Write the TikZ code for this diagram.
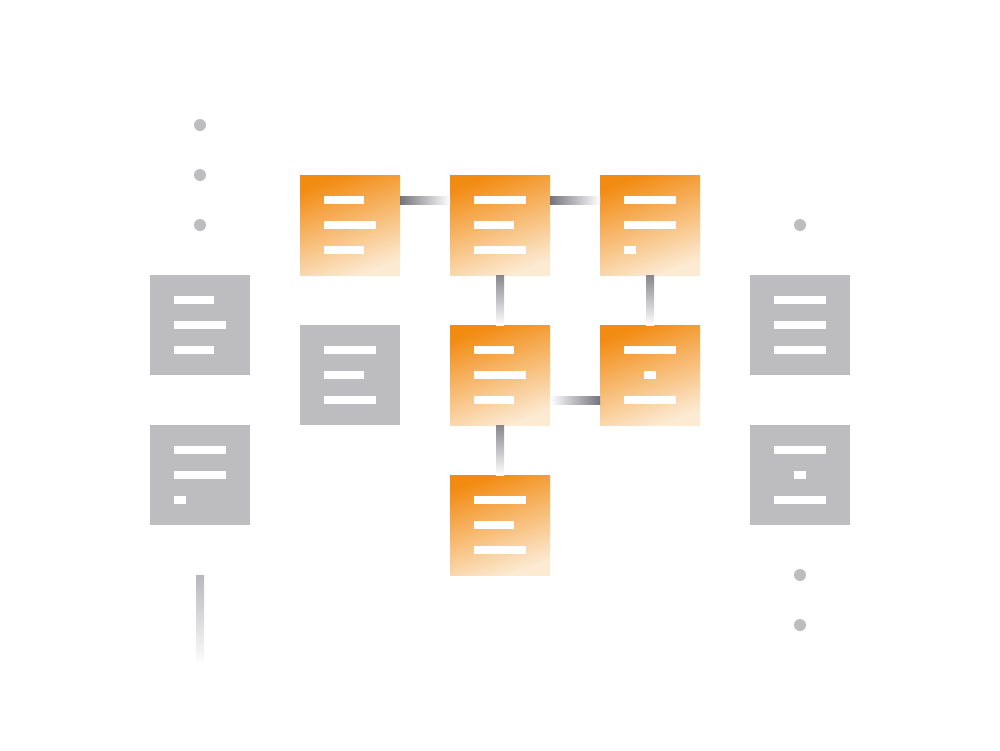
\documentclass[tikz,border=0pt]{standalone}
\usetikzlibrary{calc}
\definecolor{boxgray}{HTML}{BDBDBF}
\definecolor{dotgray}{HTML}{BDBDBF}
\definecolor{odark}{HTML}{F28B12}
\definecolor{omid}{HTML}{F5AA55}
\definecolor{olight}{HTML}{FCEAD3}
\definecolor{cdark}{HTML}{74747C}
\definecolor{vdark}{HTML}{86868C}
\definecolor{ltop}{HTML}{B8B8BC}
\definecolor{lmid}{HTML}{ADADB0}
\newcommand\mybar[4]{\fill[white] ([xshift=#3pt,yshift=-#2pt]#1.north west) rectangle ++(#4pt,-8pt);}
\newcommand\stdbars[4]{\mybar{#1}{21}{24}{#2}\mybar{#1}{46}{24}{#3}\mybar{#1}{71}{24}{#4}}
\tikzset{
  obox/.style={minimum size=100pt, inner sep=0pt, outer sep=0pt, draw=none,
    top color=odark, middle color=omid, bottom color=olight, shading angle=20},
  gbox/.style={minimum size=100pt, inner sep=0pt, outer sep=0pt, fill=boxgray},
  hconn/.style={left color=cdark, right color=white},
  hconnr/.style={left color=white, right color=cdark},
  vconn/.style={top color=vdark, bottom color=white},
  dot/.style={fill=dotgray}
}
\begin{document}
\begin{tikzpicture}[x=1pt,y=-1pt]
\useasboundingbox (0,0) rectangle (1000,750);
% orange boxes
\node[obox] (o1) at (350,225) {};
\node[obox] (o2) at (500,225) {};
\node[obox] (o3) at (650,225) {};
\node[obox] (o4) at (500,375) {};
\node[obox] (o5) at (650,375) {};
\node[obox] (o6) at (500,525) {};
% gray boxes
\node[gbox] (g1) at (200,325) {};
\node[gbox] (g2) at (200,475) {};
\node[gbox] (g3) at (350,375) {};
\node[gbox] (g4) at (800,325) {};
\node[gbox] (g5) at (800,475) {};
% bars
\stdbars{o1}{40}{52}{40}
\stdbars{o2}{52}{40}{52}
\stdbars{o3}{52}{52}{12}
\stdbars{o4}{40}{52}{40}
\mybar{o5}{21}{24}{52}\mybar{o5}{46}{44}{12}\mybar{o5}{71}{24}{52}
\stdbars{o6}{52}{40}{52}
\stdbars{g1}{40}{52}{40}
\stdbars{g2}{52}{52}{12}
\stdbars{g3}{52}{40}{52}
\stdbars{g4}{52}{52}{52}
\mybar{g5}{21}{24}{52}\mybar{g5}{46}{44}{12}\mybar{g5}{71}{24}{52}
% connectors
\shade[hconn] ([yshift=-21pt]o1.north east) rectangle ([yshift=-29pt]o2.north west);
\shade[hconn] ([yshift=-21pt]o2.north east) rectangle ([yshift=-29pt]o3.north west);
\shade[vconn] ([xshift=46pt]o2.south west) rectangle ([xshift=54pt]o4.north west);
\shade[vconn] ([xshift=46pt]o3.south west) rectangle ([xshift=54pt]o5.north west);
\shade[hconnr] ([yshift=-71pt]o4.north east) rectangle ([yshift=-79pt]o5.north west);
\shade[vconn] ([xshift=46pt]o4.south west) rectangle ([xshift=54pt]o6.north west);
% left tail line
\coordinate (t1) at (196,575);
\coordinate (t2) at (204,665);
\shade[top color=ltop, middle color=lmid, bottom color=white] (t1) rectangle (t2);
% dots
\fill[dot] (200,125) circle (6pt);
\fill[dot] (200,175) circle (6pt);
\fill[dot] (200,225) circle (6pt);
\fill[dot] (800,225) circle (6pt);
\fill[dot] (800,575) circle (6pt);
\fill[dot] (800,625) circle (6pt);
\end{tikzpicture}
\end{document}
